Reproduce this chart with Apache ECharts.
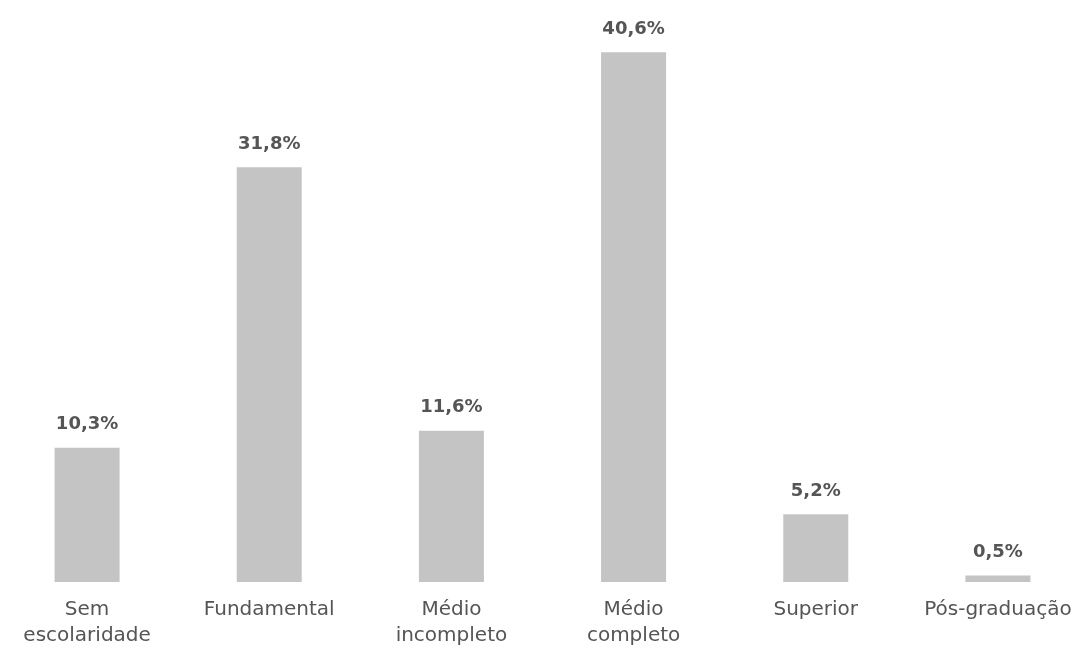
<!DOCTYPE html>
<html>
<head>
<meta charset="utf-8">
<script src="https://cdn.jsdelivr.net/npm/echarts@6/dist/echarts.min.js"></script>
<style>html,body{margin:0;padding:0;background:#fff;overflow:hidden}#c{width:1094px;height:654px;margin-left:-4px}</style>
</head>
<body>
<div id="c"></div>
<script>
const categories = ["Sem\nescolaridade", "Fundamental", "Médio\nincompleto", "Médio\ncompleto", "Superior", "Pós-graduação"];
const values = [10.3, 31.8, 11.6, 40.6, 5.2, 0.5];

const chart = echarts.init(document.getElementById('c'));
chart.setOption({
  backgroundColor: '#ffffff',
  animation: false,
  grid: { left: 0, right: 1, top: 8, bottom: 72, containLabel: false },
  xAxis: {
    type: 'category',
    data: categories,
    axisLine: { show: false },
    axisTick: { show: false },
    axisLabel: {
      interval: 0,
      margin: 15,
      color: '#555555',
      fontFamily: 'DejaVu Sans',
      fontSize: 20,
      lineHeight: 26
    }
  },
  yAxis: {
    type: 'value',
    min: 0,
    max: 44,
    show: false,
    splitLine: { show: false }
  },
  series: [{
    type: 'bar',
    data: values,
    barWidth: 65,
    itemStyle: { color: '#c4c4c4' },
    label: {
      show: true,
      position: 'top',
      distance: 14,
      color: '#555555',
      fontFamily: 'DejaVu Sans',
      fontWeight: 'bold',
      fontSize: 18,
      formatter: p => p.value.toFixed(1).replace('.', ',') + '%'
    }
  }]
});
</script>
</body>
</html>
